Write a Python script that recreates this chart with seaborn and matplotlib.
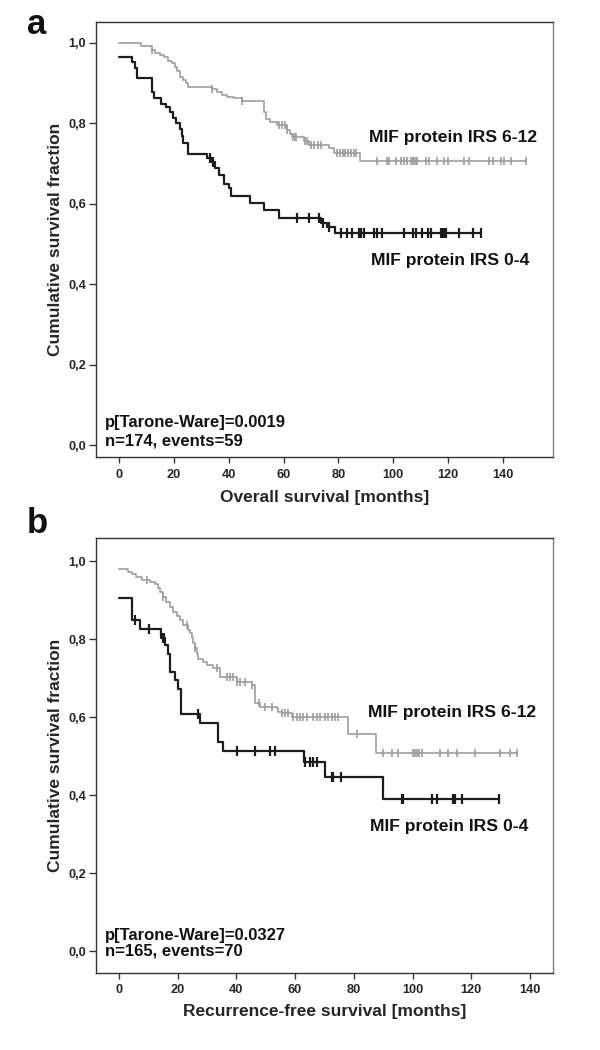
import numpy as np
import pandas as pd
import matplotlib
matplotlib.use('Agg')
import matplotlib.pyplot as plt
import seaborn as sns

# 패널 a : overall survival (months), 계단 시점과 생존율, 절단(censor) 시점
a_hi_time = [0, 7.9, 11.9, 13.2, 15.0, 16.4, 18.0, 19.3, 20.5, 21.3, 22.1, 23.3, 24.5, 25.3,
             33.9, 35.7, 37.5, 39.4, 41.8, 44.8, 52.8, 53.7, 55.2, 57.6, 61.3, 62.5, 63.1,
             67.4, 69.2, 76.5, 78.3, 87.8]
a_hi_surv = [1.0, 0.993, 0.981, 0.976, 0.970, 0.964, 0.956, 0.949, 0.940, 0.929, 0.916, 0.908,
             0.900, 0.890, 0.885, 0.879, 0.871, 0.866, 0.862, 0.856, 0.829, 0.810, 0.804, 0.796,
             0.784, 0.774, 0.767, 0.755, 0.746, 0.738, 0.726, 0.705]
a_hi_cens = [11.9, 33.9, 44.8, 58.5, 59.5, 60.5, 61.3, 63.5, 64.0, 64.5, 67.8, 68.5, 70.0, 71.0,
             72.5, 73.5, 79.5, 80.5, 81.5, 82.5, 83.5, 84.5, 85.5, 86.5, 94.2, 97.8, 98.5,
             100.9, 102.7, 103.9, 105.1, 106.4, 107.0, 107.6, 108.2, 108.8, 111.9, 113.1,
             116.1, 118.6, 119.8, 125.9, 127.7, 135.0, 136.2, 139.3, 140.5, 142.9, 148.4]

a_lo_time = [0, 4.6, 5.85, 6.7, 11.9, 12.8, 15.2, 17.2, 18.4, 19.6, 20.8, 22.1, 22.9, 23.5,
             25.0, 32.0, 33.9, 35.1, 36.3, 38.1, 40.0, 40.8, 47.9, 52.8, 58.2, 73.6, 75.8, 78.9]
a_lo_surv = [0.964, 0.953, 0.937, 0.912, 0.879, 0.862, 0.848, 0.840, 0.827, 0.813, 0.800, 0.785,
             0.768, 0.752, 0.724, 0.713, 0.704, 0.690, 0.671, 0.650, 0.638, 0.620, 0.601, 0.585,
             0.564, 0.553, 0.543, 0.527]
a_lo_cens = [33.0, 34.2, 64.9, 69.2, 72.9, 74.4, 76.5, 80.8, 83.2, 85.0, 87.5, 88.1, 89.3, 93.0,
             94.2, 96.0, 103.9, 107.0, 108.2, 110.6, 112.5, 113.7, 117.4, 118.0, 118.6, 119.2,
             124.0, 128.9, 132.0]

# 패널 b : recurrence-free survival (months)
b_hi_time = [0, 3.2, 4.3, 5.8, 7.7, 10.6, 12.3, 13.4, 14.0, 15.1, 16.2, 17.4, 18.5, 19.7,
             20.8, 21.9, 23.6, 24.2, 24.8, 25.3, 25.9, 26.5, 27.0, 28.7, 29.9, 32.1, 34.4,
             40.1, 45.2, 46.3, 48.0, 53.7, 54.3, 55.4, 58.8, 78.1, 87.6]
b_hi_surv = [0.979, 0.973, 0.967, 0.958, 0.951, 0.947, 0.941, 0.930, 0.921, 0.907, 0.896,
             0.883, 0.870, 0.859, 0.849, 0.836, 0.823, 0.815, 0.802, 0.789, 0.776, 0.763,
             0.750, 0.742, 0.733, 0.725, 0.703, 0.690, 0.682, 0.635, 0.627, 0.623, 0.614,
             0.610, 0.599, 0.556, 0.508]
b_hi_cens = [9.4, 15.1, 23.1, 25.9, 33.3, 36.7, 37.8, 38.9, 40.1, 41.2, 42.9, 45.2, 47.8, 49.6,
             52.2, 55.4, 56.6, 57.7, 59.4, 60.5, 61.7, 62.8, 63.9, 66.2, 67.4, 68.5, 70.2,
             71.3, 72.5, 73.6, 74.7, 81.0, 90.1, 93.1, 95.2, 100.3, 100.9, 101.5, 102.1,
             103.1, 109.4, 112.2, 115.0, 121.3, 129.8, 133.2, 135.5]

b_lo_time = [0, 4.3, 7.2, 14.5, 15.7, 16.8, 17.4, 19.1, 20.2, 21.1, 27.6, 33.8, 35.3, 63.0,
             70.2, 90.1]
b_lo_surv = [0.906, 0.849, 0.827, 0.802, 0.784, 0.763, 0.716, 0.695, 0.673, 0.607, 0.585,
             0.537, 0.514, 0.485, 0.447, 0.391]
b_lo_cens = [5.5, 10.3, 15.1, 15.5, 27.0, 40.1, 46.3, 51.4, 53.1, 63.4, 65.1, 66.2, 67.4, 72.5,
             73.0, 75.8, 96.3, 96.9, 106.5, 108.2, 113.9, 114.5, 116.8, 129.3]

x_ticks = [0, 20, 40, 60, 80, 100, 120, 140]
y_ticks = [0.0, 0.2, 0.4, 0.6, 0.8, 1.0]
y_ticklabels = ['0,0', '0,2', '0,4', '0,6', '0,8', '1,0']

sns.set_style('ticks')
plt.rcParams['font.family'] = ['Liberation Sans', 'DejaVu Sans']
plt.rcParams['text.color'] = '#111111'

GRAY = '#9d9d9d'
BLACK = '#1c1c1c'


def km_frames(times, surv, cens):
    # 마지막 절단 시점까지 수평선 연장, 절단 표시는 해당 시점의 생존율 위에
    end = max(times[-1], max(cens))
    line = pd.DataFrame({'t': list(times) + [end], 's': list(surv) + [surv[-1]]})
    idx = np.searchsorted(times, cens, side='right') - 1
    marks = pd.DataFrame({'t': cens, 's': np.asarray(surv)[idx]})
    return line, marks


def draw_group(ax, times, surv, cens, color, lw, ms):
    line, marks = km_frames(times, surv, cens)
    sns.lineplot(data=line, x='t', y='s', ax=ax, color=color, linewidth=lw,
                 drawstyle='steps-post', estimator=None, sort=False)
    sns.scatterplot(data=marks, x='t', y='s', ax=ax, marker='|', s=ms,
                    color=color, linewidth=lw, zorder=3)


def style_axes(ax, xlim, ylim, xlabel):
    ax.set_xlim(*xlim)
    ax.set_ylim(*ylim)
    ax.set_xticks(x_ticks)
    ax.set_xticklabels([str(t) for t in x_ticks], fontsize=9.2, fontweight='bold')
    ax.set_yticks(y_ticks)
    ax.set_yticklabels(y_ticklabels, fontsize=9.2, fontweight='bold')
    ax.tick_params(axis='x', length=4, width=1, color='#333333', pad=4)
    ax.tick_params(axis='y', length=5, width=1, color='#333333', pad=2)
    ax.set_xlabel(xlabel, fontsize=12.5, fontweight='bold')
    ax.set_ylabel('Cumulative survival fraction', fontsize=12.5, fontweight='bold')
    for side in ax.spines:
        ax.spines[side].set_visible(True)
        ax.spines[side].set_linewidth(1.0)
        ax.spines[side].set_color('#333333')
    ax.spines['right'].set_color('#808080')


fig = plt.figure(figsize=(6, 10.5), dpi=100)
ax_a = fig.add_axes([0.16, 0.5643, 0.762, 0.4148])
ax_b = fig.add_axes([0.16, 0.0733, 0.762, 0.4143])

# 패널 a
draw_group(ax_a, a_hi_time, a_hi_surv, a_hi_cens, GRAY, 1.2, 35)
draw_group(ax_a, a_lo_time, a_lo_surv, a_lo_cens, BLACK, 1.6, 45)
style_axes(ax_a, (-8.4, 158.3), (-0.031, 1.052), 'Overall survival [months]')
ax_a.xaxis.set_label_coords(0.5, -0.075)
ax_a.yaxis.set_label_coords(-0.072, 0.5)
ax_a.text(91.0, 0.764, 'MIF protein IRS 6-12', fontsize=12.6, fontweight='bold', va='center')
ax_a.text(91.7, 0.46, 'MIF protein IRS 0-4', fontsize=12.6, fontweight='bold', va='center')
ax_a.text(-5.1, 0.055, 'p[Tarone-Ware]=0.0019', fontsize=12, fontweight='bold', va='center')
ax_a.text(-5.1, 0.01, 'n=174, events=59', fontsize=12, fontweight='bold', va='center')

# 패널 b
draw_group(ax_b, b_hi_time, b_hi_surv, b_hi_cens, GRAY, 1.2, 35)
draw_group(ax_b, b_lo_time, b_lo_surv, b_lo_cens, BLACK, 1.6, 45)
style_axes(ax_b, (-7.8, 147.9), (-0.056, 1.059), 'Recurrence-free survival [months]')
ax_b.xaxis.set_label_coords(0.5, -0.072)
ax_b.yaxis.set_label_coords(-0.072, 0.5)
ax_b.text(84.8, 0.613, 'MIF protein IRS 6-12', fontsize=12.6, fontweight='bold', va='center')
ax_b.text(85.5, 0.32, 'MIF protein IRS 0-4', fontsize=12.6, fontweight='bold', va='center')
ax_b.text(-4.8, 0.041, 'p[Tarone-Ware]=0.0327', fontsize=12, fontweight='bold', va='center')
ax_b.text(-4.8, 0.0, 'n=165, events=70', fontsize=12, fontweight='bold', va='center')

fig.text(27 / 600, 1 - 34 / 1050, 'a', fontsize=25, fontweight='bold')
fig.text(27 / 600, 1 - 533 / 1050, 'b', fontsize=25, fontweight='bold')

fig.savefig('out.png', dpi=100)
